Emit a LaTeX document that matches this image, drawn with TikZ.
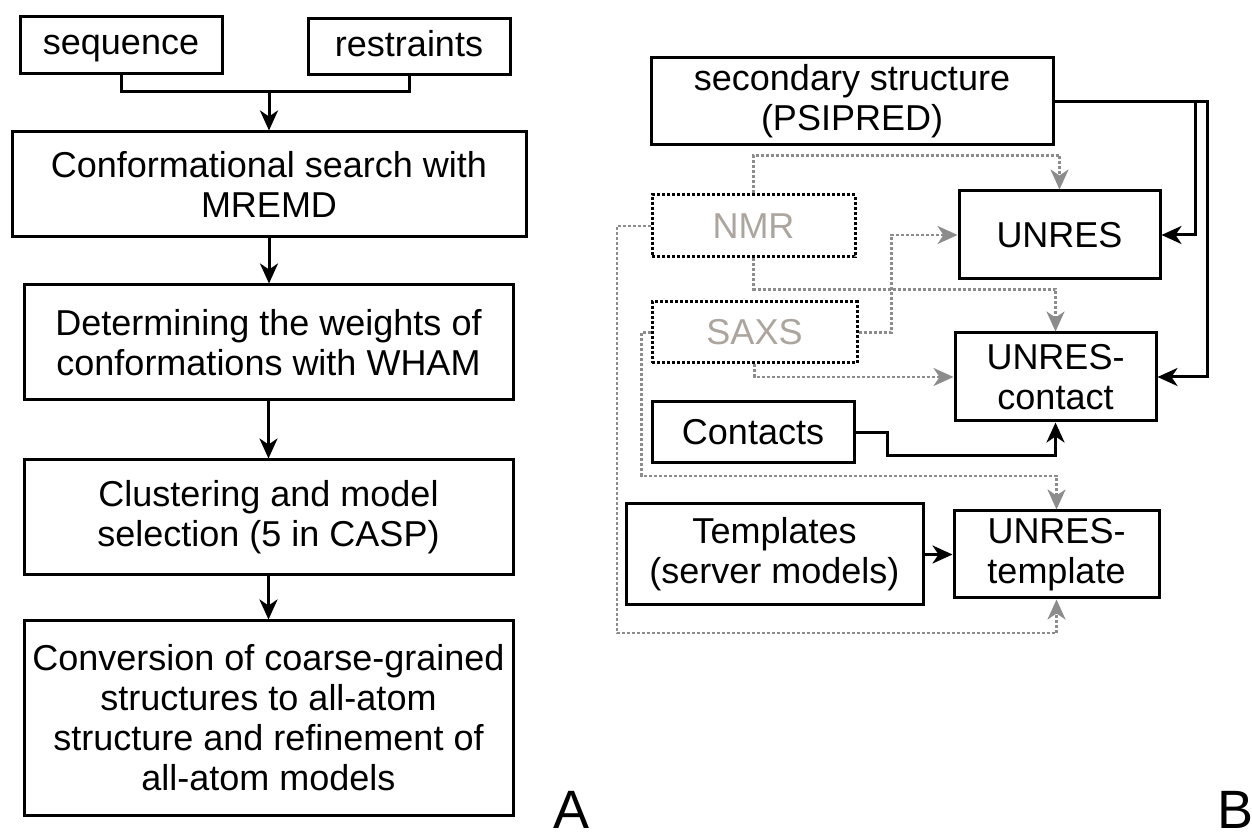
\documentclass[tikz,border=0pt]{standalone}
\usepackage{fontspec}
\setmainfont{Liberation Sans}
\usetikzlibrary{positioning,arrows.meta}
\definecolor{dotgray}{RGB}{140,140,140}
\definecolor{softtxt}{RGB}{172,165,158}

\begin{document}
\begin{tikzpicture}[x=0.5pt,y=-0.5pt,
    >={Stealth[length=10pt,width=9pt,inset=3pt]},
    box/.style={draw,line width=1.5pt,align=center,inner sep=0pt,
        font=\fontsize{18}{20}\selectfont},
    dotbox/.style={box,dash pattern=on 1.5pt off 1pt,text=softtxt},
    link/.style={->,line width=1.5pt},
    dotlink/.style={->,dotgray,line width=1.4pt,dash pattern=on 1.5pt off 1pt},
    tag/.style={font=\fontsize{27}{30}\selectfont,anchor=base,inner sep=0pt}]
\useasboundingbox (0,0) rectangle (1252,838);

% panel A
\node[box,minimum width=101pt,minimum height=28.5pt] (seq) at (121,45.5) {sequence\vphantom{l}};
\node[box,minimum width=101pt,minimum height=28pt] (rst) at (409,47) {restraints\vphantom{g}};
\node[box,minimum width=257pt,minimum height=52.5pt] (conf) at (269,184.5)
    {Conformational search with\\MREMD};
\node[box,minimum width=244.5pt,minimum height=57.5pt] (det) at (268.5,342.5)
    {Determining the weights of\\conformations with WHAM};
\node[box,minimum width=244.5pt,minimum height=57.5pt] (clu) at (268.5,517.5)
    {Clustering and model\\selection (5 in CASP)};
\node[box,minimum width=244.5pt,minimum height=97pt] (conv) at (268.5,718)
    {Conversion of coarse-grained\\structures to all-atom\\structure and refinement of\\all-atom models};
\coordinate (jn) at (269,92);

\draw[line width=1.5pt] (seq.south) |- (jn) -| (rst.south);
\draw[link] (jn) -- (conf.north);
\foreach \a/\b in {conf/det, det/clu, clu/conv}
    \draw[link] (\a.south) -- (\a.south |- \b.north);

% panel B
\node[box,minimum width=201pt,minimum height=43.5pt] (sec) at (852,101.5)
    {secondary structure\\(PSIPRED)};
\node[dotbox,minimum width=101.5pt,minimum height=31pt] (nmr) at (753.5,226) {NMR};
\node[dotbox,minimum width=102.5pt,minimum height=30.5pt] (saxs) at (754.5,332.5) {SAXS};
\node[box,minimum width=100.5pt,minimum height=44pt] (unres) at (1059.5,235) {UNRES};
\node[box,minimum width=100.5pt,minimum height=44pt] (unresc) at (1055.5,377)
    {UNRES-\\contact};
\node[box,minimum width=101pt,minimum height=30.5pt] (cont) at (753,432.5) {Contacts};
\node[box,minimum width=148.5pt,minimum height=50.5pt] (tmpl) at (774.5,554.5)
    {Templates\\(server models)};
\node[box,minimum width=102.5pt,minimum height=43.5pt] (unrest) at (1056.5,554.5)
    {UNRES-\\template};

\coordinate (b1) at (1195,0);
\coordinate (b2) at (1207,0);
\coordinate (k1) at (887,456);

\draw[link] (sec.east) -| (b1 |- unres.east) -- (unres.east);
\draw[link] (sec.east) -| (b2 |- unresc.east) -- (unresc.east);
\draw[link] (cont.east) -| (k1) -| (unresc.south);
\draw[link] (tmpl.east) -- (unrest.west);

% dotted inputs
\draw[dotlink] (nmr.north) -- ++(0,-38) -| (unres.north);
\draw[dotlink] (nmr.south) -- ++(0,31) -| (unresc.north);
\draw[dotlink] (nmr.west) -| (617,633) -| (unrest.south);
\draw[dotlink] (saxs.east) -- ++(33,0) |- (unres.west);
\draw[dotlink] (saxs.south) |- (unresc.west);
\draw[dotlink] (saxs.west) -- ++(-9,0) -- ++(0,143.5) -| (unrest.north);

\node[tag] (pa) at (572,828) {A};
\node[tag] (pb) at (1235,828) {B};

\end{tikzpicture}
\end{document}
